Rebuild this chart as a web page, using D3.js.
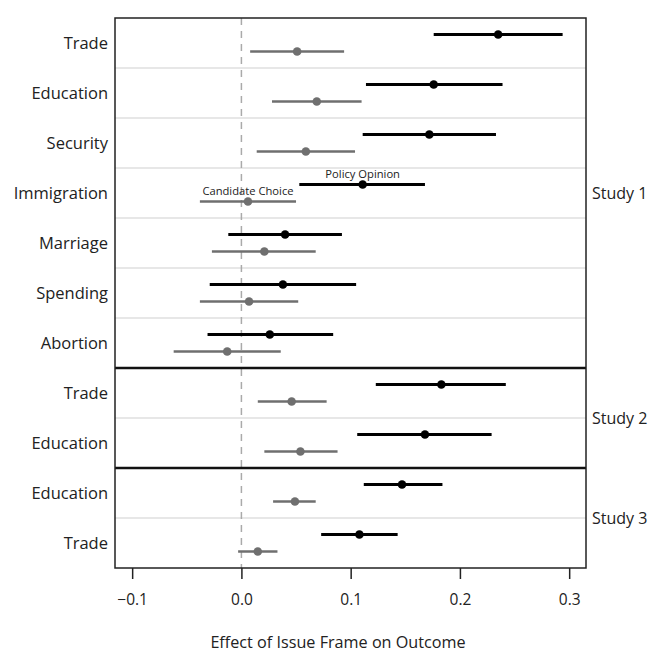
<!DOCTYPE html>
<html>
<head>
<meta charset="utf-8">
<script src="https://cdn.jsdelivr.net/npm/d3@7"></script>
<style>
    body { margin: 0; background: #fff; }
    text { font-family: "Open Sans", sans-serif; fill: #222; }
</style>
</head>
<body>
<svg id="chart" width="650" height="655"></svg>
<script>
// one row per issue, top to bottom
const rowLabels = ['Trade', 'Education', 'Security', 'Immigration', 'Marriage', 'Spending', 'Abortion',
    'Trade', 'Education', 'Education', 'Trade'];
const rowStudy = [1, 1, 1, 1, 1, 1, 1, 2, 2, 3, 3];
const studyNames = ['Study 1', 'Study 2', 'Study 3'];

// Policy Opinion (black)
const policyEst = [0.235, 0.176, 0.172, 0.111, 0.040, 0.038, 0.026, 0.183, 0.168, 0.147, 0.108];
const policyLo = [0.176, 0.114, 0.111, 0.053, -0.012, -0.029, -0.031, 0.123, 0.106, 0.112, 0.073];
const policyHi = [0.294, 0.239, 0.233, 0.168, 0.092, 0.105, 0.084, 0.242, 0.229, 0.184, 0.143];

// Candidate Choice (gray)
const candEst = [0.051, 0.069, 0.059, 0.006, 0.021, 0.007, -0.013, 0.046, 0.054, 0.049, 0.015];
const candLo = [0.008, 0.028, 0.014, -0.038, -0.027, -0.038, -0.062, 0.015, 0.021, 0.029, -0.003];
const candHi = [0.094, 0.110, 0.104, 0.050, 0.068, 0.052, 0.036, 0.078, 0.088, 0.068, 0.033];

const xTicks = [-0.1, 0, 0.1, 0.2, 0.3];

const svg = d3.select('#chart');
const margin = { top: 18, right: 64, bottom: 87, left: 115 };
const width = 650 - margin.left - margin.right;
const height = 655 - margin.top - margin.bottom;
const g = svg.append('g').attr('transform', `translate(${ margin.left }, ${ margin.top })`);

const x = d3.scaleLinear().domain([-0.1157, 0.3154]).range([0, width]);
const y = d3.scaleBand().domain(d3.range(rowLabels.length)).range([0, height]);
const off = 8.5;
const black = '#000';
const gray = '#6f6f6f';

// light separators between rows
g.selectAll('.sep')
    .data(d3.range(1, rowLabels.length).filter((i) => rowStudy[i] === rowStudy[i - 1]))
    .enter()
    .append('line')
    .attr('x1', 0)
    .attr('x2', width)
    .attr('y1', (d) => y(d))
    .attr('y2', (d) => y(d))
    .attr('stroke', '#cfcfcf')
    .attr('stroke-width', 1.2);

// zero reference line
g.append('line')
    .attr('x1', x(0))
    .attr('x2', x(0))
    .attr('y1', 0)
    .attr('y2', height)
    .attr('stroke', '#aaa')
    .attr('stroke-width', 1.5)
    .attr('stroke-dasharray', '7,6');

// heavy lines between studies
g.selectAll('.studySep')
    .data(d3.range(1, rowLabels.length).filter((i) => rowStudy[i] !== rowStudy[i - 1]))
    .enter()
    .append('line')
    .attr('x1', 0)
    .attr('x2', width)
    .attr('y1', (d) => y(d))
    .attr('y2', (d) => y(d))
    .attr('stroke', '#111')
    .attr('stroke-width', 2.5);

const rows = d3.range(rowLabels.length);
const yc = (i) => y(i) + y.bandwidth() / 2;

function drawSeries(est, lo, hi, dy, color, lw) {
    g.selectAll(null)
        .data(rows)
        .enter()
        .append('line')
        .attr('x1', (i) => x(lo[i]))
        .attr('x2', (i) => x(hi[i]))
        .attr('y1', (i) => yc(i) + dy)
        .attr('y2', (i) => yc(i) + dy)
        .attr('stroke', color)
        .attr('stroke-width', lw);
    g.selectAll(null)
        .data(rows)
        .enter()
        .append('circle')
        .attr('cx', (i) => x(est[i]))
        .attr('cy', (i) => yc(i) + dy)
        .attr('r', 4.3)
        .attr('fill', color);
}
drawSeries(candEst, candLo, candHi, off, gray, 2.6);
drawSeries(policyEst, policyLo, policyHi, -off, black, 2.8);

// labels on the immigration row
g.append('text')
    .attr('x', x(policyEst[3]))
    .attr('y', yc(3) - off - 6.5)
    .attr('text-anchor', 'middle')
    .style('font-size', '11.2px')
    .text('Policy Opinion');
g.append('text')
    .attr('x', x(candEst[3]))
    .attr('y', yc(3) + off - 6.5)
    .attr('text-anchor', 'middle')
    .style('font-size', '11.2px')
    .text('Candidate Choice');

// box
g.append('rect')
    .attr('width', width)
    .attr('height', height)
    .attr('fill', 'none')
    .attr('stroke', '#222')
    .attr('stroke-width', 1.5);

// row labels
g.selectAll('.rowLabel')
    .data(rows)
    .enter()
    .append('text')
    .attr('x', -7)
    .attr('y', (i) => yc(i))
    .attr('dy', '0.35em')
    .attr('text-anchor', 'end')
    .style('font-size', '16.5px')
    .text((i) => rowLabels[i]);

// study labels
g.selectAll('.studyLabel')
    .data(studyNames)
    .enter()
    .append('text')
    .attr('x', width + 6)
    .attr('y', (d, k) => {
        const idx = rows.filter((i) => rowStudy[i] === k + 1);
        return (y(idx[0]) + y(idx[idx.length - 1]) + y.bandwidth()) / 2;
    })
    .attr('dy', '0.35em')
    .style('font-size', '16px')
    .text((d) => d);

// x axis
const xAxis = g.append('g')
    .attr('transform', `translate(0, ${ height })`)
    .call(d3.axisBottom(x).tickValues(xTicks).tickSize(11).tickPadding(15)
        .tickFormat((d) => d3.format('.1f')(d).replace('-', '\u2212')));
xAxis.select('.domain').remove();
xAxis.selectAll('line').attr('stroke', '#222').attr('stroke-width', 1.5);
xAxis.selectAll('text').style('font-size', '15.5px').attr('fill', '#222');

g.append('text')
    .attr('x', 338 - margin.left)
    .attr('y', height + 80)
    .attr('text-anchor', 'middle')
    .style('font-size', '16.2px')
    .text('Effect of Issue Frame on Outcome');
</script>
</body>
</html>
